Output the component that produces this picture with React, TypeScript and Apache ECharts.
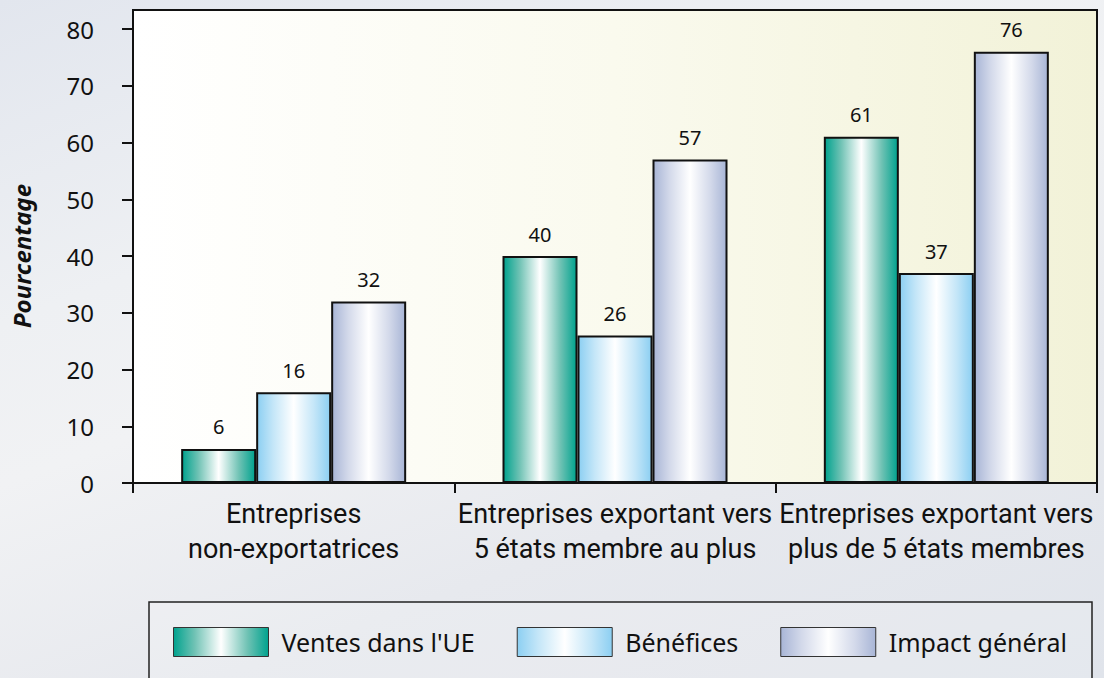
import React, { useEffect, useRef } from "react";
import * as echarts from "echarts";

const categories = [
  "Entreprises\nnon-exportatrices",
  "Entreprises exportant vers\n5 états membre au plus",
  "Entreprises exportant vers\nplus de 5 états membres",
];
const seriesNames = ["Ventes dans l'UE", "Bénéfices", "Impact général"];
const ventes = [6, 40, 61];
const benefices = [16, 26, 37];
const impact = [32, 57, 76];
const yTicks = { min: 0, max: 80, interval: 10 };
const yAxisName = "Pourcentage";

const SANS = "'Noto Sans', 'Open Sans', sans-serif";
const NARROW = "Roboto, 'Noto Sans', sans-serif";

function grad(edge: string, mid: string) {
  return new echarts.graphic.LinearGradient(0, 0, 1, 0, [
    { offset: 0, color: edge },
    { offset: 0.22, color: mid },
    { offset: 0.5, color: "#ffffff" },
    { offset: 0.78, color: mid },
    { offset: 1, color: edge },
  ]);
}

export default function App() {
  const ref = useRef<HTMLDivElement>(null);
  useEffect(() => {
    if (!ref.current) return;
    const chart = echarts.init(ref.current, undefined, { renderer: "svg" });
    const colors = [
      grad("#00a28e", "#6fc2b4"),
      grad("#8ccff2", "#c4e6f8"),
      grad("#a8b5d6", "#d3d9ea"),
    ];
    const values = [ventes, benefices, impact];
    chart.setOption({
      animation: false,
      backgroundColor: "transparent",
      grid: {
        left: 133,
        right: 7,
        top: 29,
        bottom: 195,
        containLabel: false,
        outerBoundsMode: "none",
      },
      graphic: [
        {
          type: "rect",
          z: -10,
          silent: true,
          shape: { x: 133, y: 10, width: 964, height: 473 },
          style: {
            fill: new echarts.graphic.LinearGradient(0, 0, 1, 0, [
              { offset: 0, color: "#ffffff" },
              { offset: 0.5, color: "#fafaee" },
              { offset: 1, color: "#f2f2d8" },
            ]),
            stroke: "#111",
            lineWidth: 2,
          },
        },
        {
          type: "rect",
          z: -10,
          silent: true,
          shape: { x: 149, y: 602, width: 943, height: 120 },
          style: { fill: "rgba(255,255,255,0.15)", stroke: "#222", lineWidth: 1.5 },
        },
      ],
      legend: {
        data: seriesNames,
        left: 173,
        top: 627,
        padding: 0,
        itemWidth: 95,
        itemHeight: 29,
        itemGap: 42,
        icon: "rect",
        itemStyle: { borderWidth: 1, borderColor: "#333" },
        textStyle: {
          fontSize: 25,
          fontFamily: SANS,
          color: "#111",
          padding: [0, 0, 0, 8],
        },
      },
      xAxis: {
        type: "category",
        data: categories,
        axisLine: { lineStyle: { color: "#111", width: 2 } },
        axisTick: { show: true, length: 10, lineStyle: { color: "#111", width: 2 } },
        axisLabel: {
          margin: 13,
          fontSize: 27,
          lineHeight: 35,
          fontFamily: NARROW,
          color: "#111",
          interval: 0,
        },
      },
      yAxis: {
        type: "value",
        min: yTicks.min,
        max: yTicks.max,
        interval: yTicks.interval,
        name: yAxisName,
        nameLocation: "middle",
        nameGap: 100,
        nameTextStyle: {
          fontSize: 24,
          fontWeight: "bold",
          fontStyle: "italic",
          fontFamily: SANS,
          color: "#111",
        },
        axisLine: { show: true, lineStyle: { color: "#111", width: 2 } },
        axisTick: { show: true, length: 11, lineStyle: { color: "#111", width: 2 } },
        axisLabel: { margin: 39, fontSize: 24, fontFamily: SANS, color: "#111" },
        splitLine: { show: false },
      },
      series: seriesNames.map((name, i) => ({
        name,
        type: "bar",
        data: values[i],
        barWidth: 75,
        barGap: "0%",
        itemStyle: { color: colors[i], borderColor: "#111", borderWidth: 2 },
        label: {
          show: true,
          position: "top",
          distance: 12,
          fontSize: 20,
          fontFamily: SANS,
          color: "#111",
        },
      })),
    });
    return () => chart.dispose();
  }, []);
  return (
    <div
      style={{
        position: "absolute",
        left: 0,
        top: 0,
        width: 1104,
        height: 678,
        background:
          "linear-gradient(160deg, #e2e6ee 0%, #eef0f3 30%, #f1f2f4 45%, #e7e9ee 70%, #e0e4eb 100%)",
      }}
    >
      <div ref={ref} style={{ width: 1104, height: 678 }} />
    </div>
  );
}
